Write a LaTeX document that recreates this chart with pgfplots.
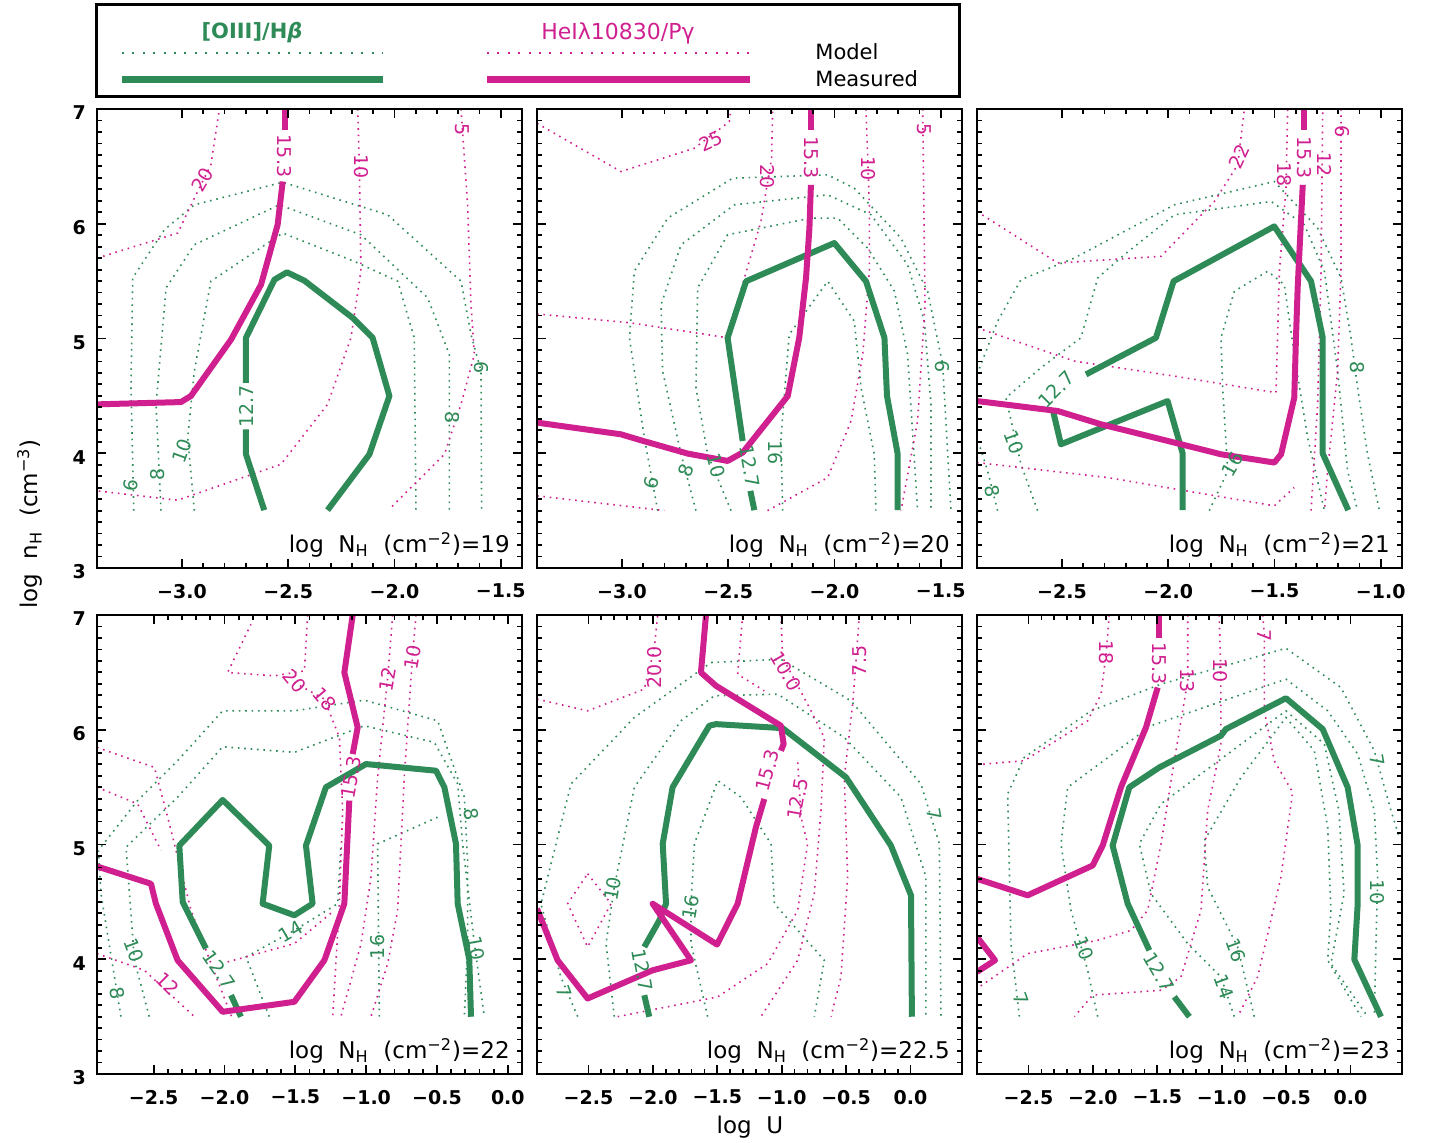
\documentclass[border=0pt]{standalone}
\usepackage{pgfplots}
\pgfplotsset{compat=1.18}
\usepackage{fontspec}
\setmainfont{DejaVu Sans}
\definecolor{cgreen}{RGB}{46,139,87}
\definecolor{cmag}{RGB}{208,32,144}
\pgfplotsset{
  panel/.style={
    scale only axis, width=212.5pt, height=229.5pt,
    anchor=south west,
    ymin=3, ymax=7, ytick={3,4,5,6,7},
    minor x tick num=4, minor y tick num=9,
    tick align=inside,
    major tick length=4.5pt, minor tick length=2.5pt,
    axis line style={line width=1.3pt},
    every tick/.style={black, line width=0.9pt},
    tick label style={font=\bfseries\fontsize{9.5}{10}\selectfont},
    xticklabel style={yshift=-4.5pt},
    yticklabel style={xshift=-2pt, yshift=-2pt},
    /pgf/number format/assume math mode=true,
    axis on top=true,
    clip=true,
  },
  mg/.style={cgreen, line width=0.8pt, dash pattern=on 0.8pt off 2.4pt},
  mm/.style={cmag, line width=0.8pt, dash pattern=on 0.8pt off 2.4pt},
  tg/.style={cgreen, line width=3pt, line join=round},
  tm/.style={cmag, line width=3pt, line join=round},
}
\newcommand{\lab}[5]{\node[text=#1,rotate=#4,font=\fontsize{9.5}{10}\selectfont,inner sep=0pt] at (axis cs:#2,#3) {#5};}
\newcommand{\plab}[1]{\node[anchor=base east,font=\fontsize{11.5}{12}\selectfont,inner sep=0pt] at (rel axis cs:0.972,0.033) {log\ \ N\textsubscript{H}\ \ (cm\textsuperscript{−2})=#1};}
\begin{document}
\begin{tikzpicture}
\useasboundingbox (0,0) rectangle (718pt,571pt);

% ---------------- legend box ----------------
\begin{axis}[scale only axis, width=431.5pt, height=46pt, at={(48pt,522.5pt)}, anchor=south west,
  xmin=0, xmax=863, ymin=0, ymax=92, y dir=reverse, xtick=\empty, ytick=\empty,
  axis line style={line width=1.5pt}, clip=false]
\addplot[cgreen, line width=1.1pt, dash pattern=on 1pt off 4.2pt] coordinates {(26,48) (287,48)};
\addplot[cgreen, line width=3.5pt] coordinates {(26,75) (287,75)};
\addplot[cmag, line width=1.1pt, dash pattern=on 1pt off 4.2pt] coordinates {(391,48) (654,48)};
\addplot[cmag, line width=3.5pt] coordinates {(391,75) (654,75)};
\node[text=cgreen, font=\bfseries\fontsize{10.5}{12}\selectfont] at (axis cs:156,28) {[OIII]/H\textit{β}};
\node[text=cmag, font=\fontsize{11}{12}\selectfont] at (axis cs:522,28) {HeIλ10830/Pγ};
\node[anchor=west, font=\fontsize{10.5}{12}\selectfont, inner sep=0pt] at (axis cs:719,47) {Model};
\node[anchor=west, font=\fontsize{10.5}{12}\selectfont, inner sep=0pt] at (axis cs:719,74) {Measured};
\end{axis}

% ---------------- panel 1 : log NH = 19 ----------------
\begin{axis}[panel, at={(48.5pt,287pt)}, xmin=-3.4, xmax=-1.4,
  xtick={-3,-2.5,-2,-1.5}, xticklabels={−3.0,−2.5,−2.0,−1.5}]
\addplot[mg] coordinates {(-3.227,3.5) (-3.240,4.571) (-3.232,5.528) (-3.083,5.948) (-2.942,6.165) (-2.526,6.362) (-2.032,6.078) (-1.687,5.499) (-1.640,5.035) (-1.593,4.716) (-1.590,3.5)};
\addplot[mg] coordinates {(-3.099,3.5) (-3.122,4.426) (-3.075,5.441) (-2.942,5.817) (-2.542,6.165) (-2.158,5.904) (-1.844,5.354) (-1.742,4.861) (-1.742,3.5)};
\addplot[mg] coordinates {(-2.942,3.5) (-2.973,4.136) (-2.942,4.716) (-2.864,5.499) (-2.526,5.919) (-2.189,5.672) (-1.985,5.499) (-1.907,5.006) (-1.899,3.5)};
\addplot[mm] coordinates {(-3.4,5.70) (-3.020,5.919) (-2.942,6.223) (-2.864,6.513) (-2.824,7)};
\addplot[mm] coordinates {(-2.173,7) (-2.165,6.455) (-2.158,5.586) (-2.205,5.006) (-2.315,4.426) (-2.534,3.904) (-3.020,3.591) (-3.4,3.672)};
\addplot[mm] coordinates {(-1.687,7) (-1.656,6.165) (-1.640,5.296) (-1.624,4.861) (-1.687,4.426) (-1.765,3.991) (-2.016,3.528)};
\addplot[tg] coordinates {(-2.613,3.504) (-2.699,3.991) (-2.699,4.209)};
\addplot[tg] coordinates {(-2.699,4.614) (-2.699,5.006) (-2.565,5.513) (-2.506,5.577) (-2.424,5.504) (-2.197,5.180) (-2.103,5.006) (-2.024,4.499) (-2.118,3.991) (-2.315,3.504)};
\addplot[tm] coordinates {(-3.4,4.426) (-3.005,4.446) (-2.958,4.499) (-2.769,4.991) (-2.628,5.470) (-2.550,5.991) (-2.526,6.368)};
\addplot[tm] coordinates {(-2.515,6.817) (-2.515,7)};
\lab{cmag}{-2.903}{6.383}{60}{20}
\lab{cmag}{-2.52}{6.59}{-90}{15.3}
\lab{cmag}{-2.158}{6.50}{-90}{10}
\lab{cmag}{-1.679}{6.817}{-90}{5}
\lab{cgreen}{-3.24}{3.716}{80}{6}
\lab{cgreen}{-3.115}{3.817}{90}{8}
\lab{cgreen}{-3.0}{4.02}{70}{10}
\lab{cgreen}{-2.699}{4.41}{90}{12.7}
\lab{cgreen}{-1.726}{4.31}{-90}{8}
\lab{cgreen}{-1.593}{4.745}{-90}{6}
\plab{19}
\end{axis}

% ---------------- panel 2 : log NH = 20 ----------------
\begin{axis}[panel, at={(268.5pt,287pt)}, xmin=-3.4, xmax=-1.4,
  xtick={-3,-2.5,-2,-1.5}, xticklabels={−3.0,−2.5,−2.0,−1.5}, yticklabels={}]
\addplot[mg] coordinates {(-2.832,3.5) (-2.895,4.136) (-2.965,5.006) (-2.942,5.586) (-2.785,6.049) (-2.479,6.397) (-2.032,6.426) (-1.907,6.310) (-1.687,5.875) (-1.562,5.412) (-1.491,4.774) (-1.452,3.5)};
\addplot[mg] coordinates {(-2.652,3.5) (-2.722,3.991) (-2.809,4.716) (-2.816,5.296) (-2.722,5.817) (-2.471,6.165) (-2.032,6.252) (-1.828,6.078) (-1.656,5.643) (-1.577,5.151) (-1.546,4.426) (-1.546,3.5)};
\addplot[mg] coordinates {(-2.487,3.5) (-2.597,3.991) (-2.652,4.571) (-2.644,5.441) (-2.503,5.904) (-2.111,6.049) (-1.985,6.049) (-1.844,5.788) (-1.718,5.412) (-1.656,4.861) (-1.609,3.5)};
\addplot[mg] coordinates {(-2.244,3.5) (-2.252,4.136) (-2.213,5.035) (-2.032,5.499) (-1.907,5.151) (-1.875,4.571) (-1.813,3.991) (-1.805,3.5)};
\addplot[mm] coordinates {(-3.4,6.875) (-3.005,6.455) (-2.660,6.658) (-2.495,6.890) (-2.487,7)};
\addplot[mm] coordinates {(-3.4,5.214) (-2.958,5.136) (-2.503,5.006) (-2.424,5.528) (-2.346,6.020) (-2.296,6.571) (-2.291,7)};
\addplot[mm] coordinates {(-1.852,7) (-1.836,6.165) (-1.836,5.586) (-1.867,4.861) (-1.922,4.281) (-2.032,3.788) (-2.315,3.5)};
\addplot[mm] coordinates {(-3.4,3.629) (-2.801,3.5)};
\addplot[mm] coordinates {(-1.585,7) (-1.574,5.296) (-1.609,4.281) (-1.687,3.5)};
\addplot[tg] coordinates {(-2.377,3.504) (-2.396,3.672)};
\addplot[tg] coordinates {(-2.432,4.107) (-2.503,5.006) (-2.416,5.499) (-2.001,5.832) (-1.852,5.499) (-1.765,5.006) (-1.753,4.499) (-1.703,3.997) (-1.703,3.504)};
\addplot[tm] coordinates {(-3.4,4.267) (-3.005,4.165) (-2.911,4.113) (-2.691,3.997) (-2.503,3.933) (-2.432,4.006) (-2.220,4.499) (-2.166,5.006) (-2.134,5.528) (-2.118,5.962) (-2.111,6.339)};
\addplot[tm] coordinates {(-2.111,6.817) (-2.111,7)};
\lab{cmag}{-2.581}{6.716}{25}{25}
\lab{cmag}{-2.315}{6.412}{-90}{20}
\lab{cmag}{-2.111}{6.58}{-90}{15.3}
\lab{cmag}{-1.839}{6.484}{-90}{10}
\lab{cmag}{-1.577}{6.817}{-90}{5}
\lab{cgreen}{-2.864}{3.745}{75}{6}
\lab{cgreen}{-2.699}{3.846}{70}{8}
\lab{cgreen}{-2.558}{3.890}{-75}{10}
\lab{cgreen}{-2.396}{3.890}{-80}{12.7}
\lab{cgreen}{-2.280}{4.006}{-90}{16}
\lab{cgreen}{-1.491}{4.759}{-90}{6}
\plab{20}
\end{axis}

% ---------------- panel 3 : log NH = 21 ----------------
\begin{axis}[panel, at={(488.5pt,287pt)}, xmin=-2.9, xmax=-0.9,
  xtick={-2.5,-2,-1.5,-1}, xticklabels={−2.5,−2.0,−1.5,−1.0}, yticklabels={}]
\addplot[mg] coordinates {(-2.9,4.687) (-2.803,5.151) (-2.693,5.513) (-2.442,5.701) (-2.207,5.933) (-1.971,6.165) (-1.501,6.368) (-1.297,5.962) (-1.187,5.528) (-1.140,5.006) (-1.109,4.571) (-1.062,3.991) (-1.007,3.504)};
\addplot[mg] coordinates {(-2.615,3.5) (-2.693,3.904) (-2.764,4.484) (-2.599,4.745) (-2.411,5.006) (-2.332,5.528) (-2.207,5.730) (-1.971,6.078) (-1.516,6.194) (-1.360,5.991) (-1.265,5.586) (-1.203,4.716) (-1.156,3.846) (-1.109,3.5)};
\addplot[mg] coordinates {(-2.803,3.5) (-2.850,3.846) (-2.9,4.136)};
\addplot[mg] coordinates {(-1.807,3.5) (-1.720,3.846) (-1.744,4.571) (-1.752,5.006) (-1.689,5.412) (-1.532,5.586) (-1.454,5.470) (-1.407,4.861) (-1.344,4.136) (-1.265,3.5)};
\addplot[mm] coordinates {(-2.9,6.107) (-2.520,5.658) (-2.034,5.716) (-1.783,6.194) (-1.673,6.513) (-1.642,7)};
\addplot[mm] coordinates {(-2.9,5.093) (-2.442,4.803) (-1.971,4.672) (-1.493,4.528) (-1.477,5.586) (-1.446,6.310) (-1.438,7)};
\addplot[mm] coordinates {(-2.9,3.919) (-2.285,3.788) (-1.501,3.542) (-1.407,3.701)};
\addplot[mm] coordinates {(-1.328,3.5) (-1.297,4.426) (-1.281,5.586) (-1.273,7)};
\addplot[mm] coordinates {(-1.187,7) (-1.187,5.586) (-1.203,4.716) (-1.250,3.846) (-1.265,3.5)};
\addplot[tg] coordinates {(-1.932,3.504) (-1.932,3.997) (-2.003,4.455) (-2.505,4.078) (-2.544,4.383)};
\addplot[tg] coordinates {(-2.387,4.687) (-2.058,5.006) (-1.975,5.499) (-1.501,5.977) (-1.328,5.499) (-1.273,5.006) (-1.273,3.997) (-1.153,3.504)};
\addplot[tm] coordinates {(-2.9,4.455) (-2.520,4.368) (-2.316,4.252) (-1.971,4.093) (-1.752,3.991) (-1.501,3.919) (-1.469,3.991) (-1.407,4.484) (-1.399,5.006) (-1.391,5.441) (-1.378,5.933) (-1.367,6.339)};
\addplot[tm] coordinates {(-1.363,6.817) (-1.363,7)};
\lab{cmag}{-1.666}{6.586}{65}{22}
\lab{cmag}{-1.454}{6.426}{-90}{18}
\lab{cmag}{-1.36}{6.58}{-90}{15.3}
\lab{cmag}{-1.265}{6.513}{-90}{12}
\lab{cmag}{-1.179}{6.803}{-90}{6}
\lab{cgreen}{-2.528}{4.557}{45}{12.7}
\lab{cgreen}{-2.724}{4.093}{-70}{10}
\lab{cgreen}{-2.826}{3.672}{-80}{8}
\lab{cgreen}{-1.697}{3.904}{60}{16}
\lab{cgreen}{-1.109}{4.745}{-90}{8}
\plab{21}
\end{axis}

% ---------------- panel 4 : log NH = 22 ----------------
\begin{axis}[panel, at={(48.5pt,34pt)}, xmin=-2.9, xmax=0.1,
  xtick={-2.5,-2,-1.5,-1,-0.5,0}, xticklabels={−2.5,−2.0,−1.5,−1.0,−0.5,0.0}]
\addplot[mg] coordinates {(-2.731,3.5) (-2.872,4.571) (-2.89,4.95) (-2.613,5.383) (-2.331,5.730) (-2.013,6.165) (-1.507,6.165) (-1.013,6.258) (-0.495,6.078) (-0.307,5.412) (-0.284,4.861) (-0.284,4.136) (-0.307,3.5)};
\addplot[mg] coordinates {(-2.531,3.5) (-2.636,3.991) (-2.695,4.977) (-2.331,5.412) (-2.013,5.852) (-1.507,5.803) (-1.013,6.035) (-0.519,5.890) (-0.354,5.528) (-0.319,5.006) (-0.236,4.136) (-0.166,3.5)};
\addplot[mg] coordinates {(-1.684,3.5) (-1.848,4.020) (-1.507,4.252) (-1.201,4.484) (-1.178,5.006)};
\addplot[mg] coordinates {(-0.907,3.5) (-0.919,5.006) (-0.495,5.238)};
\addplot[mm] coordinates {(-2.9,5.846) (-2.495,5.672) (-2.401,5.238) (-2.236,4.426) (-2.095,3.962) (-1.95,3.5)};
\addplot[mm] coordinates {(-2.9,5.499) (-2.613,5.354) (-2.448,4.948)};
\addplot[mm] coordinates {(-2.9,4.049) (-2.566,3.904) (-2.213,3.5)};
\addplot[mm] coordinates {(-1.413,7) (-1.436,6.513) (-1.648,6.470) (-1.978,6.499) (-1.813,6.919)};
\addplot[mm] coordinates {(-1.507,6.412) (-1.295,6.267) (-1.189,5.933) (-1.166,5.296) (-1.189,4.484) (-1.236,3.5)};
\addplot[mm] coordinates {(-0.813,7) (-0.848,6.455) (-0.919,5.586) (-0.966,4.716) (-1.036,4.136) (-1.178,3.5)};
\addplot[mm] coordinates {(-0.648,7) (-0.672,6.658) (-0.731,5.586) (-0.778,4.426) (-0.848,3.962) (-0.966,3.5)};
\addplot[mm] coordinates {(-1.978,3.977) (-1.507,4.136) (-1.225,4.426)};
\addplot[tg] coordinates {(-1.884,3.499) (-1.954,3.687)};
\addplot[tg] coordinates {(-2.131,4.093) (-2.295,4.499) (-2.319,4.991) (-2.013,5.388) (-1.684,4.991) (-1.731,4.484) (-1.507,4.383) (-1.378,4.484) (-1.425,4.991) (-1.284,5.499) (-1.001,5.701) (-0.507,5.643) (-0.448,5.499) (-0.366,5.006) (-0.354,4.484) (-0.272,3.997) (-0.260,3.499)};
\addplot[tm] coordinates {(-2.9,4.809) (-2.519,4.658) (-2.484,4.484) (-2.331,3.991) (-2.013,3.542) (-1.507,3.629) (-1.295,3.991) (-1.154,4.484) (-1.119,5.383)};
\addplot[tm] coordinates {(-1.095,5.788) (-1.060,6.020) (-1.154,6.499) (-1.095,7)};
\lab{cmag}{-1.507}{6.426}{-50}{20}
\lab{cmag}{-1.295}{6.267}{-50}{18}
\lab{cmag}{-1.107}{5.586}{80}{15.3}
\lab{cmag}{-0.848}{6.441}{80}{12}
\lab{cmag}{-0.672}{6.629}{80}{10}
\lab{cmag}{-2.401}{3.788}{-45}{12}
\lab{cgreen}{-2.636}{4.078}{-70}{10}
\lab{cgreen}{-2.754}{3.701}{-80}{8}
\lab{cgreen}{-2.036}{3.904}{-55}{12.7}
\lab{cgreen}{-1.531}{4.238}{30}{14}
\lab{cgreen}{-0.919}{4.107}{90}{16}
\lab{cgreen}{-0.260}{5.267}{-80}{8}
\lab{cgreen}{-0.225}{4.093}{-80}{10}
\plab{22}
\end{axis}

% ---------------- panel 5 : log NH = 22.5 ----------------
\begin{axis}[panel, at={(268.5pt,34pt)}, xmin=-2.9, xmax=0.4,
  xtick={-2.5,-2,-1.5,-1,-0.5,0}, xticklabels={−2.5,−2.0,−1.5,−1.0,−0.5,0.0}, yticklabels={}]
\addplot[mg] coordinates {(-2.584,3.5) (-2.714,3.843) (-2.869,4.481) (-2.636,5.528) (-2.144,6.107) (-1.549,6.586) (-1.006,6.614) (-0.462,6.252) (0.081,5.528) (0.224,5.006) (0.237,3.5)};
\addplot[mg] coordinates {(-2.300,3.5) (-2.364,4.136) (-2.300,4.629) (-2.144,5.499) (-1.782,6.078) (-1.523,6.296) (-1.031,6.310) (-0.514,5.933) (-0.074,5.412) (0.120,4.716) (0.120,3.5)};
\addplot[mg] coordinates {(-1.575,3.5) (-1.704,4.136) (-1.704,4.484) (-1.678,5.006) (-1.497,5.557) (-1.316,5.412) (-1.083,5.006) (-1.057,4.484) (-0.669,3.991) (-0.747,3.5)};
\addplot[mm] coordinates {(-2.9,6.267) (-2.507,6.165) (-2.067,6.354) (-1.99,6.7) (-1.963,7)};
\addplot[mm] coordinates {(-1.006,7) (-0.993,6.629) (-0.799,6.223) (-0.669,5.933) (-0.695,5.296) (-0.747,4.571) (-0.876,3.991) (-1.161,3.5)};
\addplot[mm] coordinates {(-1.303,7) (-1.342,6.484) (-1.135,6.339)};
\addplot[mm] coordinates {(-2.274,3.5) (-1.497,3.672) (-1.109,3.962) (-0.876,4.426) (-0.799,5.006) (-0.850,5.238) (-0.876,5.73)};
\addplot[mm] coordinates {(-0.397,7) (-0.423,6.6) (-0.449,6.223) (-0.514,5.586) (-0.488,4.716) (-0.540,3.846) (-0.617,3.5)};
\addplot[mm] coordinates {(-2.507,4.745) (-2.325,4.484) (-2.507,4.107) (-2.662,4.484) (-2.507,4.745)};
\addplot[tg] coordinates {(-2.028,3.499) (-2.067,3.687)};
\addplot[tg] coordinates {(-2.067,4.107) (-1.950,4.339) (-1.898,4.484) (-1.924,5.006) (-1.847,5.499) (-1.562,6.035) (-1.510,6.049) (-0.993,6.014) (-0.501,5.586) (-0.152,4.991) (0.004,4.557) (0.011,3.499)};
\addplot[tm] coordinates {(-1.588,7) (-1.627,6.499) (-1.510,6.383) (-1.006,6.035) (-0.985,5.875) (-1.006,5.817)};
\addplot[tm] coordinates {(-1.135,5.397) (-1.200,5.151) (-1.342,4.484) (-1.502,4.128) (-2.002,4.484) (-1.704,3.991) (-2.002,3.904) (-2.507,3.658) (-2.740,3.991) (-2.9,4.441)};
\lab{cmag}{-1.989}{6.542}{90}{20.0}
\lab{cmag}{-0.967}{6.513}{-60}{10.0}
\lab{cmag}{-1.109}{5.643}{75}{15.3}
\lab{cmag}{-0.876}{5.397}{80}{12.5}
\lab{cmag}{-0.397}{6.6}{90}{7.5}
\lab{cgreen}{-2.313}{4.614}{80}{10}
\lab{cgreen}{-1.704}{4.455}{80}{16}
\lab{cgreen}{-2.080}{3.904}{-80}{12.7}
\lab{cgreen}{-2.688}{3.716}{-70}{7}
\lab{cgreen}{0.185}{5.267}{-80}{7}
\plab{22.5}
\end{axis}

% ---------------- panel 6 : log NH = 23 ----------------
\begin{axis}[panel, at={(488.5pt,34pt)}, xmin=-2.9, xmax=0.4,
  xtick={-2.5,-2,-1.5,-1,-0.5,0}, xticklabels={−2.5,−2.0,−1.5,−1.0,−0.5,0.0}, yticklabels={}]
\addplot[mg] coordinates {(-2.571,3.5) (-2.636,4.136) (-2.662,5.441) (-2.533,5.759) (-2.015,6.165) (-1.471,6.397) (-0.501,6.710) (-0.074,6.368) (0.185,5.817) (0.314,5.296) (0.379,5.064)};
\addplot[mg] coordinates {(-1.963,3.5) (-2.041,3.904) (-2.170,4.426) (-2.248,5.006) (-2.196,5.499) (-1.549,6.035) (-0.501,6.441) (-0.177,6.165) (0.056,5.788) (0.185,5.296) (0.211,4.716) (0.198,4.136) (0.185,3.5)};
\addplot[mg] coordinates {(-0.902,3.5) (-1.006,3.846) (-1.264,4.136) (-1.549,4.571) (-1.640,5.006) (-1.471,5.354) (-0.954,5.788) (-0.501,6.165) (-0.203,5.875) (-0.09,5.296) (-0.05,4.571) (-0.152,3.962) (0.133,3.5)};
\addplot[mg] coordinates {(-0.747,3.5) (-0.876,4.107) (-1.109,4.629) (-1.135,5.035) (-0.850,5.586) (-0.501,6.107) (-0.281,5.817) (-0.177,5.151) (-0.152,4.426) (-0.177,3.991) (0.081,3.5)};
\addplot[mm] coordinates {(-1.873,7) (-1.898,6.658) (-1.937,6.310) (-2.041,6.078) (-2.533,5.730) (-2.9,5.696)};
\addplot[mm] coordinates {(-1.264,7) (-1.264,6.426) (-1.368,5.730) (-1.471,5.006) (-1.575,4.426) (-1.704,4.252) (-1.963,4.165) (-2.507,4.049) (-2.9,3.745)};
\addplot[mm] coordinates {(-1.020,7) (-1.007,6.513) (-1.006,5.875) (-1.109,5.296) (-1.161,4.426) (-1.316,3.846) (-1.471,3.730) (-2.002,3.687) (-2.144,3.5)};
\addplot[mm] coordinates {(-0.682,7) (-0.669,6.832) (-0.669,6.165) (-0.592,5.730) (-0.449,5.455) (-0.540,4.716) (-0.721,3.846) (-0.876,3.5)};
\addplot[tg] coordinates {(-1.251,3.499) (-1.368,3.672)};
\addplot[tg] coordinates {(-1.562,4.078) (-1.730,4.484) (-1.847,4.991) (-1.717,5.499) (-1.484,5.672) (-1.006,5.948) (-0.967,6.006) (-0.501,6.275) (-0.216,6.006) (-0.022,5.499) (0.056,4.991) (0.056,4.484) (0.030,3.997) (0.237,3.499)};
\addplot[tm] coordinates {(-2.9,4.701) (-2.507,4.557) (-2.002,4.817) (-1.924,4.991) (-1.782,5.499) (-1.588,6.020) (-1.497,6.368)};
\addplot[tm] coordinates {(-1.490,6.803) (-1.490,7)};
\addplot[tm] coordinates {(-2.9,4.194) (-2.760,3.991) (-2.9,3.890)};
\lab{cmag}{-1.898}{6.672}{-90}{18}
\lab{cmag}{-1.484}{6.58}{-90}{15.3}
\lab{cmag}{-1.264}{6.426}{-90}{13}
\lab{cmag}{-1.007}{6.513}{-90}{10}
\lab{cmag}{-0.669}{6.817}{-90}{7}
\lab{cgreen}{-2.067}{4.093}{-70}{10}
\lab{cgreen}{-1.484}{3.890}{-60}{12.7}
\lab{cgreen}{-0.889}{4.078}{-70}{16}
\lab{cgreen}{-0.980}{3.759}{-70}{14}
\lab{cgreen}{-2.558}{3.658}{-70}{7}
\lab{cgreen}{0.211}{5.730}{-80}{7}
\lab{cgreen}{0.211}{4.586}{-90}{10}
\plab{23}
\end{axis}

% ---------------- shared axis titles ----------------
\node[rotate=90, font=\fontsize{11.5}{12}\selectfont] at (15pt,309pt) {log\ \ n\textsubscript{H}\ \ (cm\textsuperscript{−3})};
\node[font=\fontsize{11.5}{12}\selectfont] at (375pt,7.5pt) {log\ \ U};
\end{tikzpicture}
\end{document}
